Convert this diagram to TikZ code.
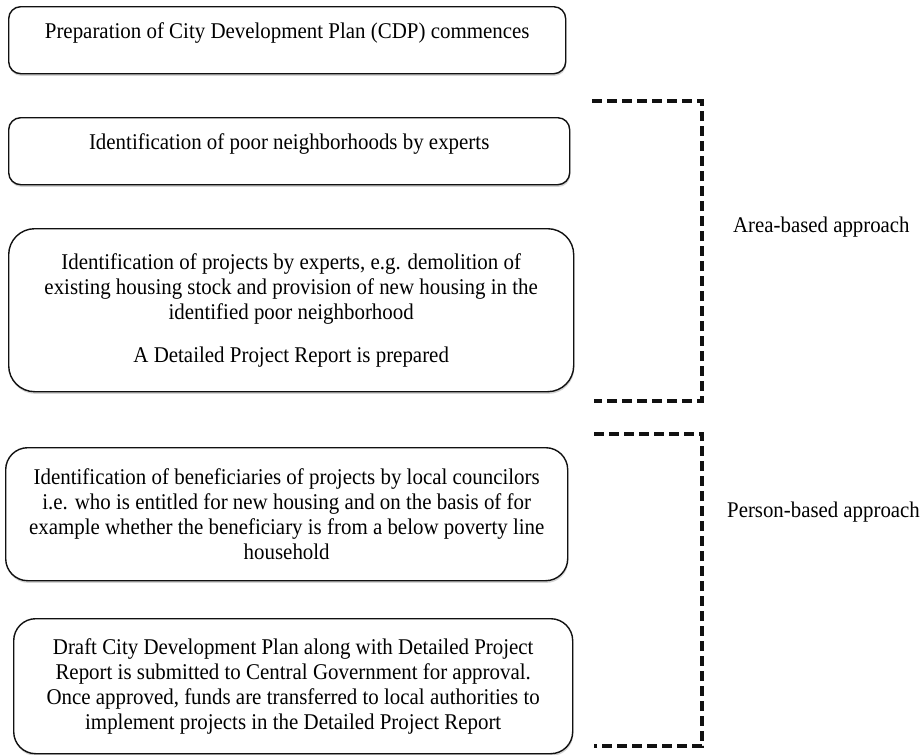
\documentclass[tikz,border=0pt]{standalone}
\usepackage{fontspec}
\setmainfont{Liberation Serif}[FakeStretch=0.93]
\usetikzlibrary{shadows}
\definecolor{inkblack}{HTML}{111111}
\definecolor{shadowgrey}{HTML}{C8C8C8}

\tikzset{
  stepbox/.style={draw=inkblack, line width=1.4pt, rounded corners=22pt,
    fill=white, inner sep=0pt, align=center, anchor=north west,
    font=\fontsize{22.5}{25}\selectfont,
    drop shadow={shadow xshift=0.6pt, shadow yshift=-2.2pt, fill=shadowgrey, opacity=0.8}},
  onelinebox/.style={text height=32pt, text depth=35pt, rounded corners=12pt},
  bracketline/.style={draw=inkblack, line width=3.6pt, dash pattern=on 10pt off 5pt},
  approachlabel/.style={anchor=west, inner sep=0pt, font=\fontsize{22.4}{24}\selectfont}
}

\begin{document}
\begin{tikzpicture}[x=1pt, y=-1pt]

  % === page frame (pixel coordinates, y downwards) ===
  \useasboundingbox (0,0) rectangle (922,755);

  % --- process steps ---
  \node[stepbox, onelinebox, minimum width=557pt, minimum height=67pt] (cdpstart) at (8,6)
    {Preparation of City Development Plan (CDP) commences};

  \node[stepbox, onelinebox, minimum width=561pt, minimum height=67pt] (poorareas) at (8,117)
    {Identification of poor neighborhoods by experts};

  \node[stepbox, rounded corners=26pt, minimum width=565pt, minimum height=163pt] (projects) at (8,228)
    {Identification of projects by experts, e.g. demolition of\\
     existing housing stock and provision of new housing in the\\
     identified poor neighborhood\\[18pt]
     A Detailed Project Report is prepared};

  \node[stepbox, minimum width=562pt, minimum height=133pt] (beneficiaries) at (5,447)
    {Identification of beneficiaries of projects by local councilors\\
     i.e. who is entitled for new housing and on the basis of for\\
     example whether the beneficiary is from a below poverty line\\
     household};

  \node[stepbox, minimum width=559pt, minimum height=135pt] (approval) at (13,618)
    {Draft City Development Plan along with Detailed Project\\
     Report is submitted to Central Government for approval.\\
     Once approved, funds are transferred to local authorities to\\
     implement projects in the Detailed Project Report};

  % --- dashed brackets ---
  \def\brx{702}   % vertical stroke of both brackets
  \coordinate (areatop) at (592,101);
  \coordinate (areabot) at (594,401);
  \coordinate (persontop) at (594,434);
  \coordinate (personbot) at (594,746);

  \draw[bracketline] (areatop) -- (\brx,101) -- (\brx,401) -- (areabot);
  \draw[bracketline] (persontop) -- (\brx,434) -- (\brx,746) -- (personbot);

  % --- approach labels ---
  \node[approachlabel] (arealabel) at (733,227) {Area-based approach};
  \node[approachlabel] (personlabel) at (727,512) {Person-based approach};

\end{tikzpicture}
\end{document}
